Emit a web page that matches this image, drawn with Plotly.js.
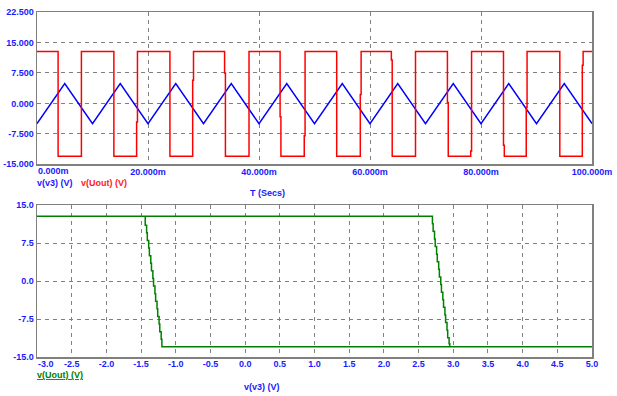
<!DOCTYPE html>
<html><head><meta charset="utf-8">
<script src="https://cdn.plot.ly/plotly-3.0.1.min.js"></script>
<style>html,body{margin:0;padding:0;background:#fff;}#chart{width:617px;height:396px;}</style>
</head><body><div id="chart"></div>
<script>
// ---------- data ----------
// v(v3): triangle wave, vertices (ms, V)
const triT = [0,5,10,15,20,25,30,35,40,45,50,55,60,65,70,75,80,85,90,95,100];
const triV = [-5.0,4.85,-5.0,4.85,-5.0,4.85,-5.0,4.85,-5.0,4.85,-5.0,4.85,-5.0,4.85,-5.0,4.85,-5.0,4.85,-5.0,4.85,-5.0];

// v(Uout): comparator output with small transition jogs (ms, V)
const uoutT = [0,
  3.8,3.8, 8.0,8.0, 13.85,13.85,
  17.95,17.95,18.1,18.1, 23.95,23.95,
  28.05,28.05,28.2,28.2, 33.8,33.8,33.95,33.95,
  38.2,38.2, 43.8,43.8,43.95,43.95,
  48.15,48.15,48.3,48.3, 54.0,54.0,
  58.25,58.25,58.4,58.4, 63.85,63.85,64.0,64.0,
  68.2,68.2, 73.95,73.95,74.1,74.1,
  78.15,78.15,78.3,78.3, 84.05,84.05,84.2,84.2,
  88.15,88.15,88.3,88.3, 94.2,94.2,
  98.25,98.25,98.4,98.4, 100];
const uoutV = [12.8,
  12.8,-13.0, -13.0,12.8, 12.8,-13.0,
  -13.0,-4.6,-4.6,12.8, 12.8,-13.0,
  -13.0,5.7,5.7,12.8, 12.8,7.5,7.5,-13.0,
  -13.0,12.8, 12.8,-3.3,-3.3,-13.0,
  -13.0,-8.0,-8.0,12.8, 12.8,-13.0,
  -13.0,2.2,2.2,12.8, 12.8,10.7,10.7,-13.0,
  -13.0,12.8, 12.8,0.2,0.2,-13.0,
  -13.0,-11.7,-11.7,12.8, 12.8,-10.3,-10.3,-13.0,
  -13.0,-1.0,-1.0,12.8, 12.8,-13.0,
  -13.0,9.4,9.4,12.8, 12.8];

// transfer characteristic v(Uout) vs v(v3)
const xyV3 = [-5.0,2.70,2.71,2.73,2.74,2.76,2.77,2.79,2.80,2.82,2.83,2.85,2.86,2.88,2.89,2.91,2.92,2.94,2.95,2.96,5.05,
  -1.20,-1.21,-1.23,-1.24,-1.26,-1.27,-1.29,-1.30,-1.32,-1.33,-1.35,-1.36,-1.38,-1.39,-1.41,-1.42,-1.44,-1.45];
const xyUout = [12.8,12.8,11.3,9.8,8.3,6.8,5.3,3.8,2.3,0.8,-0.7,-2.2,-3.7,-5.2,-6.7,-8.2,-9.7,-11.2,-12.4,-13.0,-13.0,
  -13.0,-11.5,-10.0,-8.5,-7.0,-5.5,-4.0,-2.5,-1.0,0.5,2.0,3.5,5.0,6.5,8.0,9.5,11.0,12.8];

// ticks
const timeTickVals = [0,20,40,60,80,100];
const timeTickText = ["0.000m","20.000m","40.000m","60.000m","80.000m","100.000m"];
const topYTickVals = [-15,-7.5,0,7.5,15,22.5];
const topYTickText = ["-15.000","-7.500","0.000","7.500","15.000","22.500"];
const botXTickVals = [-3,-2.5,-2,-1.5,-1,-0.5,0,0.5,1,1.5,2,2.5,3,3.5,4,4.5,5];
const botXTickText = ["-3.0","-2.5","-2.0","-1.5","-1.0","-0.5","0.0","0.5","1.0","1.5","2.0","2.5","3.0","3.5","4.0","4.5","5.0"];
const botYTickVals = [-15,-7.5,0,7.5,15];
const botYTickText = ["-15.0","-7.5","0.0","7.5","15.0"];

// ---------- layout ----------
const W=617,H=396, ml=37, mr=25, mt=12, mb=39;
const pw=W-ml-mr, ph=H-mt-mb;
const px = x => (x-ml)/pw;
const py = y => (H-mb-y)/ph;
const FONT = "Liberation Sans, Arial, sans-serif";
const BLUE = "#1a1aff";
const tf = {family:FONT,size:9,color:BLUE,weight:"bold"};
// the first x label of each plot is drawn left-aligned at the axis start (as in the reference)
const blankFirst = arr => arr.map((t,i)=> i===0 ? "" : t);

const common = {showgrid:true, gridcolor:"#808080", gridwidth:1, griddash:"4px,4px",
  showline:true, mirror:true, linecolor:"#808080", linewidth:1.5, zeroline:false,
  ticks:"", tickfont:tf, tickmode:"array", fixedrange:true};

const traces = [
  {x:triT, y:triV, xaxis:"x", yaxis:"y", type:"scatter", mode:"lines",
   line:{color:"#0000ff", width:1.5}, name:"v(v3) (V)"},
  {x:uoutT, y:uoutV, xaxis:"x", yaxis:"y", type:"scatter", mode:"lines",
   line:{color:"#ff0000", width:1.5}, name:"v(Uout) (V)"},
  {x:xyV3, y:xyUout, xaxis:"x2", yaxis:"y2", type:"scatter", mode:"lines",
   line:{color:"#008000", width:1.5, shape:"vh"}, name:"v(Uout) (V)"}
];

const ann = (text,x,y,color,xanchor)=>({text, xref:"paper", yref:"paper", x:px(x), y:py(y),
  xanchor:xanchor, yanchor:"middle", showarrow:false, font:{family:FONT,size:9,color:color,weight:"bold"}});
const firstTick = (text,xref,xval,y)=>({text, xref:xref, yref:"paper", x:xval, y:py(y),
  xanchor:"left", yanchor:"middle", showarrow:false, borderpad:0, font:tf});

const layout = {
  width:W, height:H, margin:{l:ml,r:mr,t:mt,b:mb,pad:0},
  paper_bgcolor:"#ffffff", plot_bgcolor:"#ffffff", showlegend:false,
  xaxis: Object.assign({}, common, {domain:[0,1], anchor:"y", range:[0,100], ticklabelstandoff:-2,
    tickvals:timeTickVals, ticktext:blankFirst(timeTickText)}),
  yaxis: Object.assign({}, common, {domain:[py(164.3), 1], anchor:"x", range:[-15,22.5],
    tickvals:topYTickVals, ticktext:topYTickText}),
  xaxis2: Object.assign({}, common, {domain:[0,1], anchor:"y2", range:[-3,5], ticklabelstandoff:-2,
    tickvals:botXTickVals, ticktext:blankFirst(botXTickText)}),
  yaxis2: Object.assign({}, common, {domain:[0, py(205)], anchor:"x2", range:[-15,15],
    tickvals:botYTickVals, ticktext:botYTickText}),
  annotations:[
    firstTick(timeTickText[0],"x",timeTickVals[0],171),
    firstTick(botXTickText[0],"x2",botXTickVals[0],363.5),
    ann("v(v3) (V)",35,183,BLUE,"left"),
    ann("v(Uout) (V)",79,183,"#ff1a1a","left"),
    ann("T (Secs)",267,193,BLUE,"center"),
    ann("<u>v(Uout) (V)</u>",35,375,"#008000","left"),
    ann("v(v3) (V)",262,387,BLUE,"center")
  ]
};

Plotly.newPlot("chart", traces, layout, {displayModeBar:false, staticPlot:true});
</script></body></html>
